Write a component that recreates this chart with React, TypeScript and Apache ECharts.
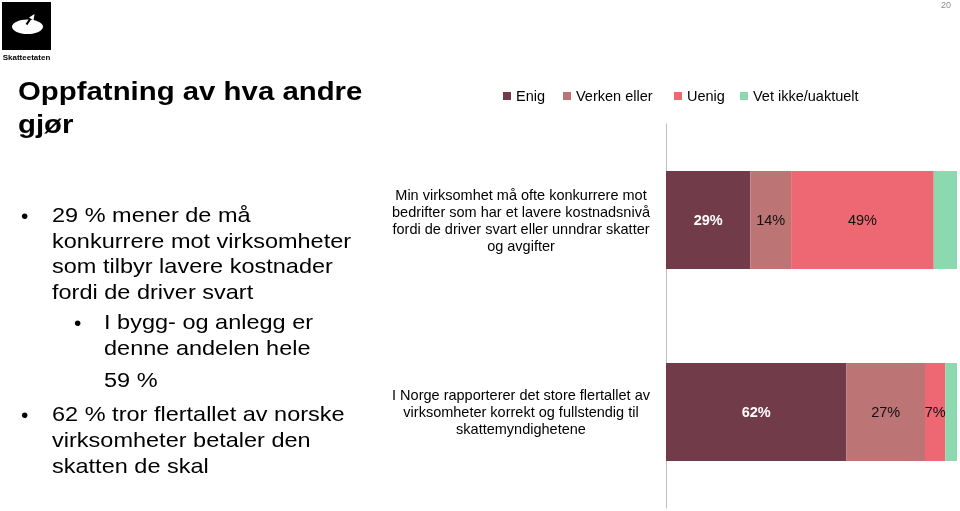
import React, { useEffect, useRef } from "react";
import * as echarts from "echarts";

const categories = [
  "Min virksomhet må ofte konkurrere mot\nbedrifter som har et lavere kostnadsnivå\nfordi de driver svart eller unndrar skatter\nog avgifter",
  "I Norge rapporterer det store flertallet av\nvirksomheter korrekt og fullstendig til\nskattemyndighetene",
];
const seriesNames = ["Enig", "Verken eller", "Uenig", "Vet ikke/uaktuelt"];
const enig = [29, 62];
const verken = [14, 27];
const uenig = [49, 7];
const vetIkke = [8, 4];

const titleLines = ["Oppfatning av hva andre", "gjør"];
const bullet1 = ["29 % mener de må", "konkurrere mot virksomheter", "som tilbyr lavere kostnader", "fordi de driver svart"];
const subBullet = ["I bygg- og anlegg er", "denne andelen hele"];
const subExtra = "59 %";
const bullet2 = ["62 % tror flertallet av norske", "virksomheter betaler den", "skatten de skal"];

const FONT = "'Liberation Sans', Arial, sans-serif";
const colors = ["#713B49", "#BC7474", "#EE6873", "#8CD9B0"];

export default function App() {
  const ref = useRef<HTMLDivElement>(null);
  useEffect(() => {
    if (!ref.current) return;
    const chart = echarts.init(ref.current, null, { renderer: "svg" });

    const txt = (text: string, x: number, y: number, size: number, opts: any = {}) => ({
      type: "text",
      x,
      y,
      scaleX: opts.scaleX ?? 1,
      style: {
        text,
        fontSize: size,
        fontFamily: FONT,
        fontWeight: opts.bold ? "bold" : "normal",
        fill: opts.fill ?? "#000",
        align: opts.align ?? "left",
        verticalAlign: "middle",
      },
    });

    const graphics: any[] = [];
    // logo
    graphics.push({ type: "rect", shape: { x: 2, y: 2, width: 49, height: 48 }, style: { fill: "#000" } });
    graphics.push({ type: "ellipse", shape: { cx: 27.5, cy: 26.8, rx: 15.5, ry: 7.3 }, style: { fill: "#fff" } });
    graphics.push({ type: "line", shape: { x1: 26.5, y1: 24.5, x2: 31.5, y2: 17 }, style: { stroke: "#000", lineWidth: 2.2 } });
    graphics.push({ type: "polygon", shape: { points: [[29, 17.5], [34.5, 14], [33.5, 20.5]] }, style: { fill: "#fff" } });
    graphics.push(txt("Skatteetaten", 26.5, 57, 8, { bold: true, align: "center" }));
    // page number
    graphics.push(txt("20", 946, 4.5, 9, { fill: "#8c8c8c", align: "center" }));
    // title
    titleLines.forEach((l, i) => graphics.push(txt(l, 18, 91 + i * 33, 26, { bold: true, scaleX: 1.13 })));
    // bullets
    const bs = 21;
    const sx = 1.12;
    graphics.push(txt("•", 21, 215, bs));
    bullet1.forEach((l, i) => graphics.push(txt(l, 52, 215 + i * 25.7, bs, { scaleX: sx })));
    graphics.push(txt("•", 74, 322, bs));
    subBullet.forEach((l, i) => graphics.push(txt(l, 104, 322 + i * 26, bs, { scaleX: sx })));
    graphics.push(txt(subExtra, 104, 380, bs, { scaleX: sx }));
    graphics.push(txt("•", 21, 414, bs));
    bullet2.forEach((l, i) => graphics.push(txt(l, 52, 414 + i * 26, bs, { scaleX: sx })));

    const mkLegend = (name: string, left: number) => ({
      data: [name],
      left,
      top: 88,
      padding: 0,
      itemWidth: 8,
      itemHeight: 8,
      icon: "rect",
      textStyle: { fontSize: 14.5, fontFamily: FONT, color: "#000", lineHeight: 16 },
    });

    const dataArr = [enig, verken, uenig, vetIkke];

    chart.setOption({
      animation: false,
      color: colors,
      textStyle: { fontFamily: FONT },
      legend: [
        mkLegend(seriesNames[0], 503),
        mkLegend(seriesNames[1], 563),
        mkLegend(seriesNames[2], 674),
        mkLegend(seriesNames[3], 740),
      ],
      grid: { left: 666, right: 3, top: 124, bottom: 3, containLabel: false },
      xAxis: { type: "value", min: 0, max: 100, show: false },
      yAxis: {
        type: "category",
        inverse: true,
        data: categories,
        axisLine: { show: true, lineStyle: { color: "#BFBFBF", width: 1 } },
        axisTick: { show: false },
        axisLabel: {
          margin: 145,
          align: "center",
          fontSize: 14.5,
          lineHeight: 17,
          color: "#000",
          fontFamily: FONT,
        },
      },
      graphic: graphics,
      series: seriesNames.map((name, si) => ({
        name,
        type: "bar",
        stack: "total",
        barWidth: 98,
        data: dataArr[si],
        itemStyle: { color: colors[si], borderWidth: 0 },
        label: {
          show: si < 3,
          position: "inside",
          formatter: "{c}%",
          fontSize: 14.5,
          fontFamily: FONT,
          color: si === 0 ? "#fff" : "#111",
          fontWeight: si === 0 ? "bold" : "normal",
        },
      })),
    });
    return () => chart.dispose();
  }, []);
  return <div ref={ref} style={{ position: "fixed", left: 0, top: 0, width: 960, height: 511 }} />;
}
